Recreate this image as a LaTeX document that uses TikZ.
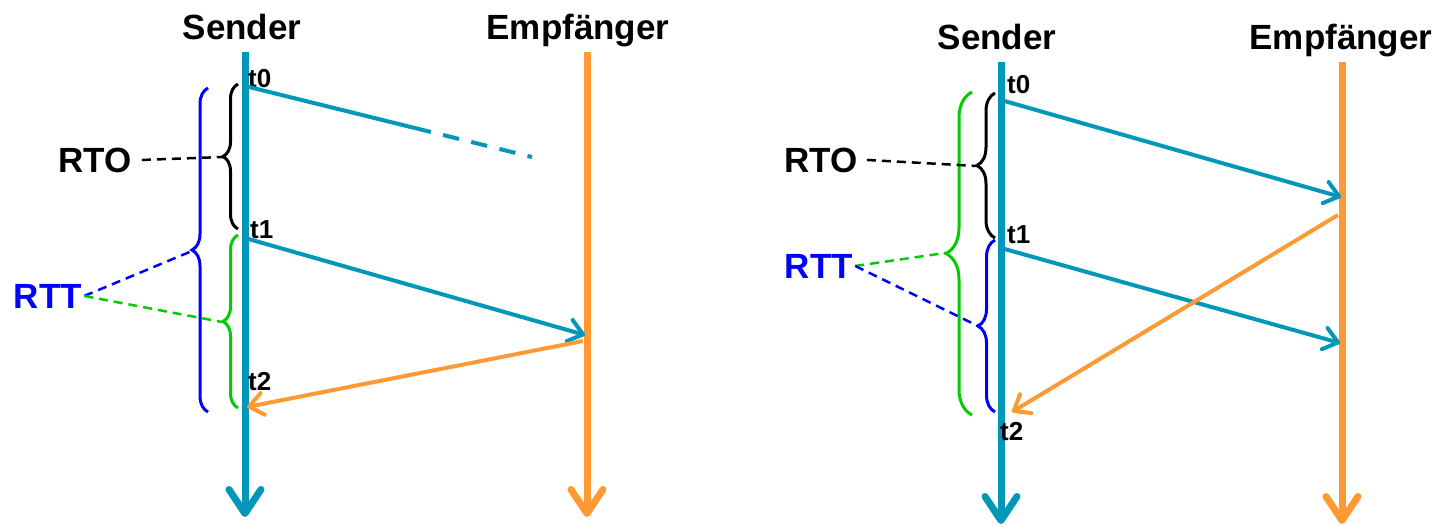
\documentclass[tikz,border=0pt]{standalone}
\usepackage{fontspec}
\setmainfont{Liberation Sans}
\usetikzlibrary{arrows.meta,decorations.pathreplacing}
\definecolor{seqteal}{RGB}{0,151,184}
\definecolor{seqorange}{RGB}{255,153,51}
\definecolor{seqgreen}{RGB}{0,204,0}
\definecolor{seqblue}{RGB}{0,0,255}
\begin{document}
\begin{tikzpicture}[x=1pt,y=-1pt,
  life/.style={line width=7pt,-{Straight Barb[round,length=24pt,width=32pt]}},
  msg/.style={line width=4pt,-{Straight Barb[round,length=14pt,width=22pt]}},
  lbl/.style={font=\fontsize{35}{40}\selectfont\bfseries,inner sep=0pt,anchor=base},
  tl/.style={font=\fontsize{26}{30}\selectfont\bfseries,inner sep=0pt,anchor=base west},
  br/.style={line width=3pt,decorate,decoration={brace,amplitude=#1}},
  dl/.style={line width=2.5pt,dash pattern=on 9pt off 6pt}]
\useasboundingbox (0,0) rectangle (1449,527);
% ---------------- left diagram ----------------
\node[lbl] (sendL) at (242,40) {Sender};
\node[lbl] (empL) at (578,40) {Empfänger};
\coordinate (sLt) at (245,52);
\coordinate (sLb) at (245,517);
\coordinate (eLt) at (587,52);
\coordinate (eLb) at (587,517);
\draw[life,seqteal] (sLt) -- (sLb);
\draw[life,seqorange] (eLt) -- (eLb);
\node[tl] (t0L) at (248,88) {t0};
\node[tl] (t1L) at (250,238) {t1};
\node[tl] (t2L) at (248,390) {t2};
\coordinate (m1sL) at (245,86);
\coordinate (m1eL) at (532,157);
\draw[seqteal,line width=4pt,dash pattern=on 191.5pt off 12.5pt on 16.5pt off 12.5pt on 16.5pt off 12.5pt on 16.5pt off 12.5pt on 20pt] (m1sL) -- (m1eL);
\coordinate (m2sL) at (245,238);
\coordinate (m2eL) at (585,335);
\draw[msg,seqteal] (m2sL) -- (m2eL);
\coordinate (r1sL) at (583,341);
\coordinate (r1eL) at (247,407);
\draw[msg,seqorange] (r1sL) -- (r1eL);
% braces
\coordinate (bkbL) at (238,229);
\coordinate (bktL) at (238,84);
\coordinate (bktipL) at (223,157);
\draw[br=15pt,black] (bkbL) -- (bktL);
\coordinate (gbL) at (238,408);
\coordinate (gtL) at (238,235);
\coordinate (gtipL) at (222,322);
\draw[br=15pt,seqgreen] (gbL) -- (gtL);
\coordinate (bbL) at (208,412);
\coordinate (btL) at (208,88);
\coordinate (btipL) at (192,251);
\draw[br=16pt,seqblue] (bbL) -- (btL);
\node[lbl] (rtoL) at (95,172) {RTO};
\node[lbl,text=seqblue] (rttL) at (48,308) {RTT};
\draw[dl,black] ([xshift=10pt]rtoL.east) -- (bktipL);
\draw[dl,seqblue] ([xshift=2pt]rttL.east) -- (btipL);
\draw[dl,seqgreen] ([xshift=2pt]rttL.east) -- (gtipL);
% ---------------- right diagram ----------------
\node[lbl] (sendR) at (997,50) {Sender};
\node[lbl] (empR) at (1341,50) {Empfänger};
\coordinate (sRt) at (1001,62);
\coordinate (sRb) at (1001,524);
\coordinate (eRt) at (1342,62);
\coordinate (eRb) at (1342,524);
\draw[life,seqteal] (sRt) -- (sRb);
\draw[life,seqorange] (eRt) -- (eRb);
\node[tl] (t0R) at (1007,93) {t0};
\node[tl] (t1R) at (1007,243) {t1};
\node[tl] (t2R) at (1000,440) {t2};
\coordinate (m1sR) at (1001,100);
\coordinate (m1eR) at (1341,197);
\draw[msg,seqteal] (m1sR) -- (m1eR);
\coordinate (m2sR) at (1001,248);
\coordinate (m2eR) at (1340,343);
\draw[msg,seqteal] (m2sR) -- (m2eR);
\coordinate (r1sR) at (1338,215);
\coordinate (r1eR) at (1012,412);
\draw[msg,seqorange] (r1sR) -- (r1eR);
% braces
\coordinate (bkbR) at (995,238);
\coordinate (bktR) at (995,93);
\coordinate (bktipR) at (977,166);
\draw[br=18pt,black] (bkbR) -- (bktR);
\coordinate (bbR) at (995,412);
\coordinate (btR) at (995,240);
\coordinate (btipR) at (978,326);
\draw[br=17pt,seqblue] (bbR) -- (btR);
\coordinate (gbR) at (972,415);
\coordinate (gtR) at (972,92);
\coordinate (gtipR) at (945,253);
\draw[br=26pt,seqgreen] (gbR) -- (gtR);
\node[lbl] (rtoR) at (821,172) {RTO};
\node[lbl,text=seqblue] (rttR) at (819,278) {RTT};
\draw[dl,black] ([xshift=9pt]rtoR.east) -- (bktipR);
\draw[dl,seqgreen] ([xshift=2pt]rttR.east) -- (gtipR);
\draw[dl,seqblue] ([xshift=2pt]rttR.east) -- (btipR);
\end{tikzpicture}
\end{document}
